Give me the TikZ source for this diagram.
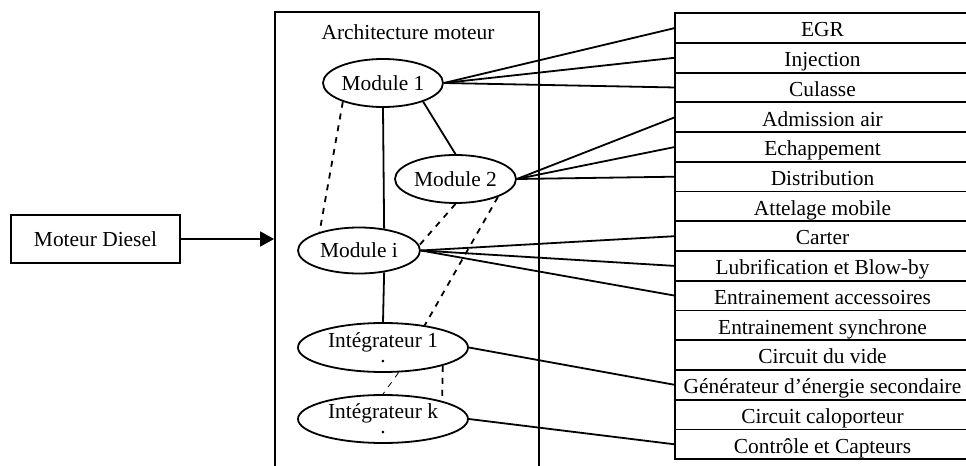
\documentclass[tikz,border=0pt]{standalone}
\usepackage{fontspec}
\setmainfont{Liberation Serif}
\usetikzlibrary{arrows.meta,positioning,shapes.geometric}

\begin{document}
\begin{tikzpicture}[
  x=0.5pt,y=-0.5pt,
  every node/.style={font=\fontsize{10.7}{12.8}\selectfont},
  box/.style={draw,line width=0.9pt,minimum width=84.5pt,minimum height=24pt,
              inner sep=0pt},
  frame/.style={draw,line width=0.9pt,minimum width=132pt,minimum height=234pt},
  mod/.style={ellipse,draw,line width=0.9pt,inner sep=0pt,
              minimum width=60pt,minimum height=24pt},
  integ/.style={mod,minimum width=85pt,align=center},
  row/.style={draw,line width=0.9pt,minimum width=147.5pt,minimum height=14.87pt,
              inner sep=0pt,outer sep=0pt,text height=9.3pt,text depth=0.5pt},
  link/.style={line width=0.9pt},
  dashlink/.style={link,dashed},
  arr/.style={-{Triangle[length=7pt,width=7.5pt]},line width=0.9pt}]

  \useasboundingbox (0,0) rectangle (966,466);
  \clip (0,0) rectangle (966,466);

  \node[box] (diesel) at (95.5,239) {Moteur Diesel};
  \node[frame] (archi) at (407,246) {};
  \node (title) at (408,32) {Architecture moteur};

  \node[mod] (m1) at (383,83) {Module 1};
  \node[mod,minimum width=60.5pt] (m2) at (455.5,179) {Module 2};
  \node[mod,minimum width=61pt,minimum height=23pt] (mi) at (359,250.5) {Module i};
  \node[integ,minimum height=24.5pt] (i1) at (383,347.5) {Intégrateur 1\\[-5.5pt].};
  \node[integ] (ik) at (383,419) {Intégrateur k\\[-5.5pt].};

  % sous-systemes
  \node[row] (egr) at (822.5,28) {EGR};
  \node[row,below=0pt of egr] (inj) {Injection};
  \node[row,below=0pt of inj] (cul) {Culasse};
  \node[row,below=0pt of cul] (adm) {Admission air};
  \node[row,below=0pt of adm] (ech) {Echappement};
  \node[row,below=0pt of ech] (dist) {Distribution};
  \node[row,below=0pt of dist] (att) {Attelage mobile};
  \node[row,below=0pt of att] (cart) {Carter};
  \node[row,below=0pt of cart] (lub) {Lubrification et Blow-by};
  \node[row,below=0pt of lub] (entacc) {Entrainement accessoires};
  \node[row,below=0pt of entacc] (entsync) {Entrainement synchrone};
  \node[row,below=0pt of entsync] (vide) {Circuit du vide};
  \node[row,below=0pt of vide] (gen) {Générateur d’énergie secondaire};
  \node[row,below=0pt of gen] (calo) {Circuit caloporteur};
  \node[row,below=0pt of calo] (ctrl) {Contrôle et Capteurs};

  \draw[arr] (diesel.east) -- (diesel.east -| archi.west);

  \draw[link] (m1.east) -- (egr.west);
  \draw[link] (m1.east) -- (inj.west);
  \draw[link] (m1.east) -- (cul.west);
  \draw[link] (m2.east) -- (adm.west);
  \draw[link] (m2.east) -- (ech.west);
  \draw[link] (m2.east) -- (dist.west);
  \draw[link] (mi.east) -- (cart.west);
  \draw[link] (mi.east) -- (lub.west);
  \draw[link] (mi.east) -- (entacc.west);
  \draw[link] (i1.east) -- (gen.west);
  \draw[link] (ik.east) -- (ctrl.west);

  % liens entre modules
  \draw[link] (m1.south) -- (mi.41);
  \draw[link] (mi.-41) -- (i1.north);
  \draw[link] (m1.-25) -- (m2.north);
  \draw[dashlink] (m1.-155) -- (mi.155);
  \draw[dashlink] (m2.south) -- (mi.5);
  \draw[dashlink] (m2.-23) -- (i1.28);
  \draw[dashlink,line width=0.4pt] (i1.-58) -- (ik.north);
  \draw[dashlink] (i1.-17) -- (ik.17);
\end{tikzpicture}
\end{document}
